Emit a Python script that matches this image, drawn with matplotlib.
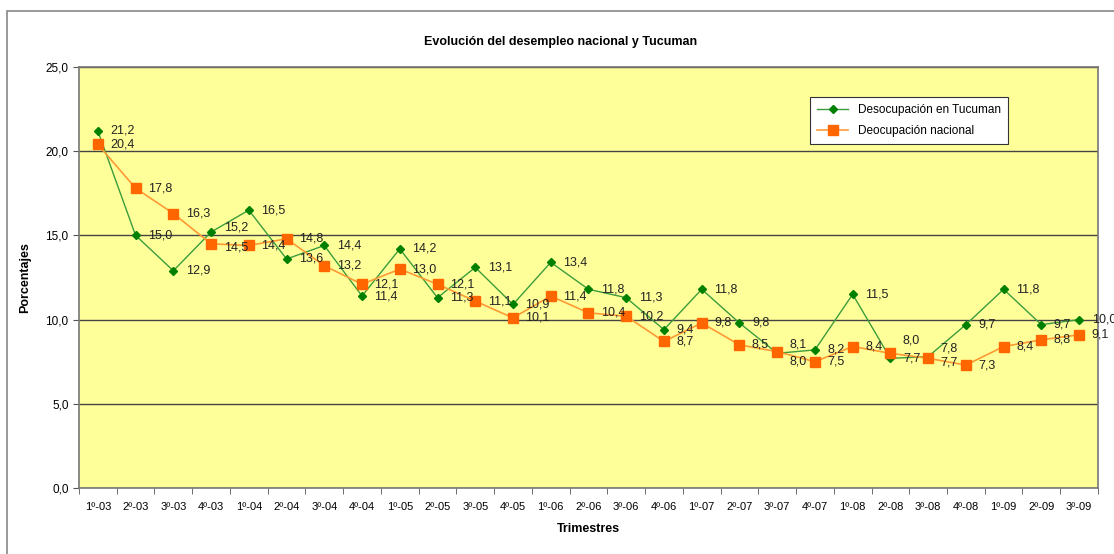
import matplotlib
matplotlib.use("Agg")
import matplotlib.pyplot as plt
from matplotlib.patches import Rectangle

plt.rcParams['font.family'] = ['Liberation Sans', 'DejaVu Sans']

# Trimestres 2003-2009
trimestres = ['1º-03', '2º-03', '3º-03', '4º-03', '1º-04', '2º-04', '3º-04', '4º-04',
              '1º-05', '2º-05', '3º-05', '4º-05', '1º-06', '2º-06', '3º-06', '4º-06',
              '1º-07', '2º-07', '3º-07', '4º-07', '1º-08', '2º-08', '3º-08', '4º-08',
              '1º-09', '2º-09', '3º-09']

tucuman = [21.2, 15.0, 12.9, 15.2, 16.5, 13.6, 14.4, 11.4, 14.2, 11.3, 13.1, 10.9,
           13.4, 11.8, 11.3, 9.4, 11.8, 9.8, 8.0, 8.2, 11.5, 7.7, 7.8, 9.7, 11.8, 9.7, 10.0]

nacional = [20.4, 17.8, 16.3, 14.5, 14.4, 14.8, 13.2, 12.1, 13.0, 12.1, 11.1, 10.1,
            11.4, 10.4, 10.2, 8.7, 9.8, 8.5, 8.1, 7.5, 8.4, 8.0, 7.7, 7.3, 8.4, 8.8, 9.1]

yticks = [0, 5, 10, 15, 20, 25]

# desplazamiento vertical (pt) de algunas etiquetas que se pisan
desp_tuc = {3: 3, 18: -6, 22: 6}
desp_nac = {3: -3, 18: 5, 21: 9, 22: -3}

fig = plt.figure(figsize=(11.14, 5.54), dpi=100)
ax = fig.add_axes([0.0709, 0.1191, 0.9147, 0.7600])

# marco exterior del grafico
fig.patches.append(Rectangle((0.0063, -0.05), 1.2, 1.03,
                             transform=fig.transFigure, fill=False,
                             edgecolor='#888888', linewidth=1.2, clip_on=False))

ax.set_facecolor('#FFFF99')
x = list(range(len(trimestres)))

ax.plot(x, tucuman, color='#3C9C3C', linewidth=1.0, marker='D', markersize=4.5,
        markerfacecolor='#008000', markeredgecolor='#008000',
        label='Desocupación en Tucuman', zorder=3)
ax.plot(x, nacional, color='#FF9933', linewidth=1.2, marker='s', markersize=6.5,
        markerfacecolor='#FF6600', markeredgecolor='#FF6600',
        label='Deocupación nacional', zorder=4)

for serie, desp in ((tucuman, desp_tuc), (nacional, desp_nac)):
    for xi, v in zip(x, serie):
        ax.annotate(f'{v:.1f}'.replace('.', ','), (xi, v), xytext=(9, desp.get(xi, 0)),
                    textcoords='offset points', va='center', ha='left',
                    fontsize=9, color='#222222', zorder=5)

ax.set_xlim(-0.5, len(trimestres) - 0.5)
ax.set_ylim(0, 25)
ax.set_yticks(yticks)
ax.set_yticklabels([f'{t:.1f}'.replace('.', ',') for t in yticks], fontsize=8.5)
ax.set_xticks(x)
ax.set_xticklabels(trimestres, fontsize=8)
ax.set_xticks([i + 0.5 for i in range(-1, len(trimestres))], minor=True)
ax.tick_params(axis='x', which='major', length=0, pad=10)
ax.tick_params(axis='x', which='minor', length=4, color='#555555')
ax.tick_params(axis='y', length=4, color='#555555')

ax.grid(axis='y', color='#444444', linewidth=1.0)
ax.set_axisbelow(True)
for s in ['top', 'right', 'left', 'bottom']:
    ax.spines[s].set_color('#777777')
    ax.spines[s].set_linewidth(1.2)

ax.set_ylabel('Porcentajes', fontsize=9, fontweight='bold', labelpad=10)
ax.set_xlabel('Trimestres', fontsize=9, fontweight='bold', labelpad=8)
fig.text(0.503, 0.925, 'Evolución del desempleo nacional y Tucuman',
         ha='center', va='center', fontsize=9, fontweight='bold')

leg = ax.legend(loc='upper left', bbox_to_anchor=(0.712, 0.942), fontsize=8.5,
                frameon=True, fancybox=False, framealpha=1, edgecolor='#333333',
                handlelength=2.6, borderpad=0.6, labelspacing=0.7)
leg.get_frame().set_linewidth(0.8)

fig.savefig('out.png', dpi=100)
